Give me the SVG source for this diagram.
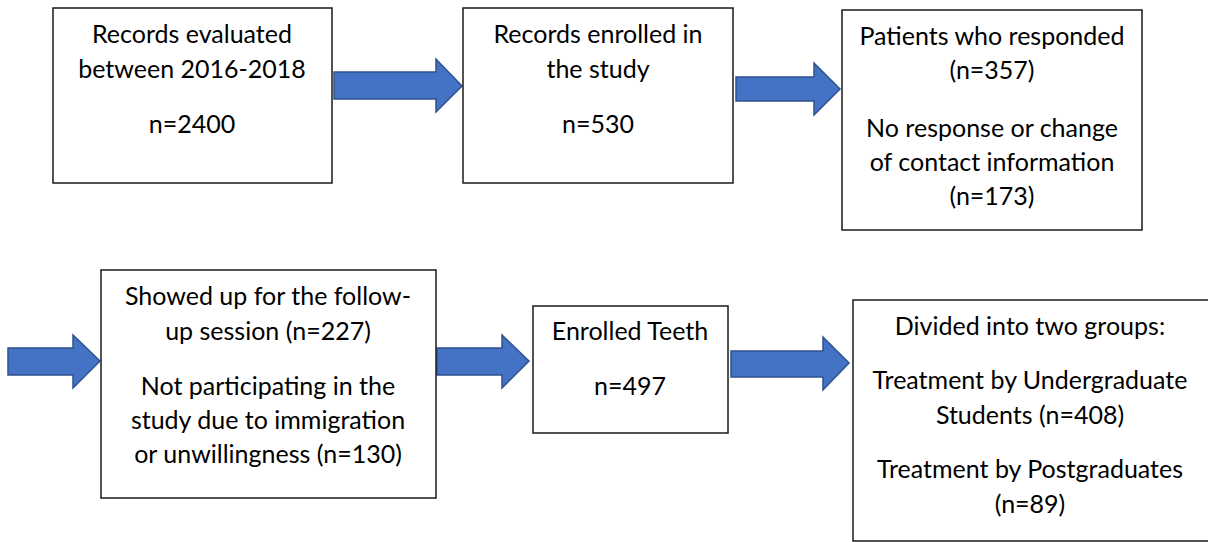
<svg xmlns="http://www.w3.org/2000/svg" width="1208" height="542" viewBox="0 0 1208 542">
<style>
.box{fill:#fff;stroke:#1a1a1a;stroke-width:1.5}
.arr{fill:#4472C4;stroke:#2F528F;stroke-width:1.5;stroke-linejoin:miter}
text{font-family:Lato,"Open Sans","Liberation Sans",sans-serif;font-size:25px;fill:#000;text-anchor:middle}
</style>
<rect width="1208" height="542" fill="#fff"/>
<g id="connectors">
<polygon class="arr" points="334,72 436,72 436,59 462,86 436,112 436,99 334,99"/>
<polygon class="arr" points="736,77 814,77 814,63 840,89 814,115 814,101 736,101"/>
<polygon class="arr" points="8,348 73,348 73,335 100,361 73,388 73,375 8,375"/>
<polygon class="arr" points="437,348 502,348 502,335 529,361 502,388 502,375 437,375"/>
<polygon class="arr" points="731,351 823,351 823,337 849,363 823,390 823,377 731,377"/>
</g>
<g id="node1">
<rect class="box" x="53" y="8" width="279" height="175"/>
<text x="192" y="43">Records evaluated</text>
<text x="192" y="78">between 2016-2018</text>
<text x="192" y="133">n=2400</text>
</g>
<g id="node2">
<rect class="box" x="463" y="8" width="270" height="175"/>
<text x="598" y="43">Records enrolled in</text>
<text x="598" y="78">the study</text>
<text x="598" y="133">n=530</text>
</g>
<g id="node3">
<rect class="box" x="842" y="10" width="300" height="220"/>
<text x="992" y="45">Patients who responded</text>
<text x="992" y="79">(n=357)</text>
<text x="992" y="137">No response or change</text>
<text x="992" y="171">of contact information</text>
<text x="992" y="205">(n=173)</text>
</g>
<g id="node4">
<rect class="box" x="101" y="270" width="335" height="228"/>
<text x="268" y="305">Showed up for the follow-</text>
<text x="268" y="340">up session (n=227)</text>
<text x="268" y="395">Not participating in the</text>
<text x="268" y="429">study due to immigration</text>
<text x="268" y="463">or unwillingness (n=130)</text>
</g>
<g id="node5">
<rect class="box" x="533" y="306" width="195" height="127"/>
<text x="630" y="340">Enrolled Teeth</text>
<text x="630" y="395">n=497</text>
</g>
<g id="node6">
<rect class="box" x="853" y="300" width="358" height="241"/>
<text x="1030" y="335">Divided into two groups:</text>
<text x="1030" y="389">Treatment by Undergraduate</text>
<text x="1030" y="424">Students (n=408)</text>
<text x="1030" y="478">Treatment by Postgraduates</text>
<text x="1030" y="513">(n=89)</text>
</g>
</svg>
